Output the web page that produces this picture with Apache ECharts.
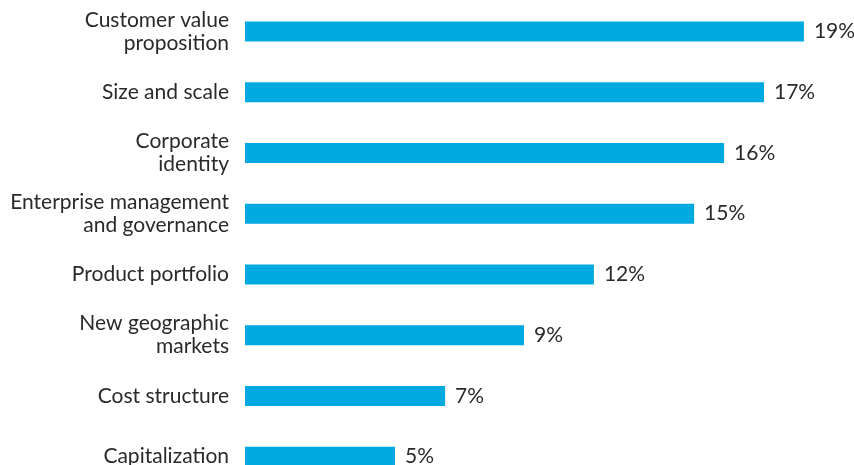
<!DOCTYPE html>
<html>
<head>
<meta charset="utf-8">
<script src="https://cdn.jsdelivr.net/npm/echarts@6/dist/echarts.min.js"></script>
<style>
html,body{margin:0;padding:0;background:#fff;overflow:hidden;}
#chart{width:854px;height:487px;}
</style>
</head>
<body>
<div id="chart"></div>
<script>
var categories = [
  "Customer value\nproposition",
  "Size and scale",
  "Corporate\nidentity",
  "Enterprise management\nand governance",
  "Product portfolio",
  "New geographic\nmarkets",
  "Cost structure",
  "Capitalization"
];
var values = [18.63, 17.3, 15.97, 14.97, 11.63, 9.3, 6.67, 5.0];

var chart = echarts.init(document.getElementById('chart'));
chart.setOption({
  animation: false,
  grid: {left: 245, top: 1, width: 600, height: 486, containLabel: false},
  xAxis: {
    type: 'value', min: 0, max: 20, show: false
  },
  yAxis: {
    type: 'category', data: categories, inverse: true,
    axisLine: {show: false}, axisTick: {show: false}, splitLine: {show: false},
    axisLabel: {
      margin: 16, fontSize: 21, lineHeight: 23, color: '#2a2a2a',
      fontFamily: 'Lato', align: 'right'
    }
  },
  series: [{
    type: 'bar', data: values, barWidth: 20,
    itemStyle: {color: '#00A9E0'},
    label: {
      show: true, position: 'right', distance: 10,
      fontSize: 21, color: '#2a2a2a', fontFamily: 'Lato',
      formatter: function (p) { return Math.round(p.value) + '%'; }
    }
  }]
});
</script>
</body>
</html>
